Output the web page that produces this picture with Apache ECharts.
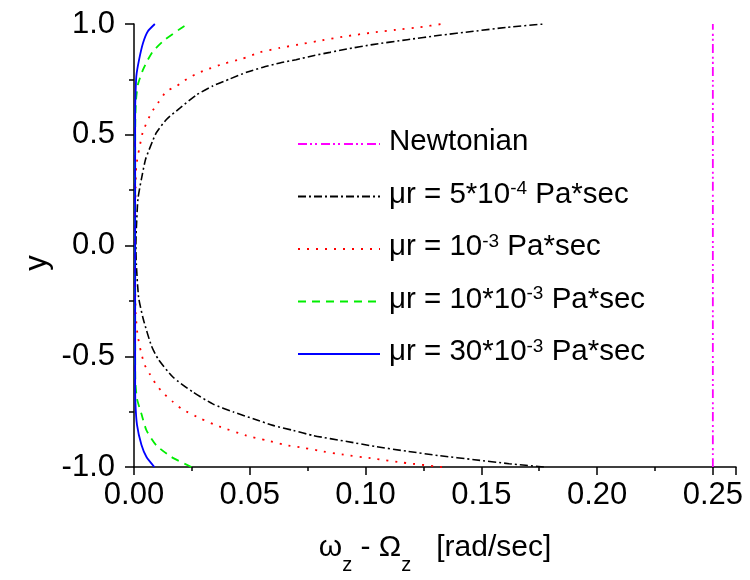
<!DOCTYPE html>
<html>
<head>
<meta charset="utf-8">
<script src="https://cdn.jsdelivr.net/npm/echarts@6/dist/echarts.min.js"></script>
<style>html,body{margin:0;padding:0;background:#fff;}#chart{width:750px;height:580px;}</style>
</head>
<body>
<div id="chart"></div>
<script>
// ---- data: [x (rad/sec), y] pairs ----
var newtonian = [[0.25, -1.0], [0.25, 1.0]];

var mu5e4 = [
  [0.177,-1.0],[0.162,-0.985],[0.147,-0.967],[0.132,-0.949],[0.118,-0.929],[0.104,-0.907],
  [0.092,-0.885],[0.0774,-0.858],[0.0688,-0.835],[0.060,-0.812],[0.0515,-0.782],[0.043,-0.752],
  [0.034,-0.715],[0.0255,-0.662],[0.0169,-0.595],[0.0104,-0.512],[0.0075,-0.452],[0.004,-0.332],
  [0.002,-0.234],[0.001,-0.084],[0.0008,0.0],[0.001,0.073],[0.0017,0.21],[0.0032,0.30],
  [0.005,0.389],[0.008,0.471],[0.0097,0.51],[0.014,0.569],[0.0198,0.62],[0.027,0.68],
  [0.034,0.72],[0.0414,0.752],[0.0486,0.782],[0.0558,0.805],[0.063,0.824],[0.070,0.839],
  [0.0774,0.857],[0.0846,0.872],[0.0919,0.887],[0.103,0.907],[0.118,0.929],[0.132,0.949],
  [0.1466,0.967],[0.161,0.985],[0.177,1.0]
];

var mu1e3 = [
  [0.133,-1.0],[0.116,-0.98],[0.1034,-0.962],[0.0897,-0.943],[0.0818,-0.93],[0.073,-0.913],
  [0.065,-0.9],[0.0573,-0.88],[0.0486,-0.858],[0.0368,-0.817],[0.0289,-0.782],[0.0205,-0.737],
  [0.0166,-0.704],[0.0125,-0.665],[0.0094,-0.625],[0.0068,-0.58],[0.0046,-0.539],[0.003,-0.48],
  [0.0015,-0.4],[0.0007,-0.3],[0.0005,-0.15],[0.0005,0.0],[0.0005,0.15],[0.0007,0.26],
  [0.001,0.36],[0.0022,0.434],[0.0029,0.47],[0.0039,0.516],[0.0075,0.599],[0.0104,0.644],
  [0.014,0.696],[0.0183,0.719],[0.0219,0.745],[0.0263,0.772],[0.0306,0.791],[0.0385,0.82],
  [0.0464,0.842],[0.0544,0.872],[0.063,0.892],[0.071,0.907],[0.0789,0.922],[0.0911,0.944],
  [0.1034,0.962],[0.1157,0.977],[0.1236,0.986],[0.133,1.0]
];

var mu10e3 = [
  [0.0248,-1.0],[0.0162,-0.955],[0.0097,-0.903],[0.0054,-0.835],[0.0032,-0.76],[0.0013,-0.692],
  [0.0006,-0.617],[0.0005,-0.5],[0.0005,0.0],[0.0005,0.5],[0.0006,0.58],[0.0009,0.659],
  [0.0017,0.727],[0.0039,0.794],[0.006,0.839],[0.0082,0.877],[0.0133,0.929],[0.0198,0.977],
  [0.0232,1.0]
];

var mu30e3 = [
  [0.0088,-1.0],[0.0054,-0.955],[0.0032,-0.9],[0.0013,-0.81],[0.0006,-0.707],[0.0005,-0.6],
  [0.0005,0.0],[0.0005,0.6],[0.0006,0.66],[0.001,0.764],[0.0022,0.839],[0.0039,0.914],
  [0.006,0.967],[0.009,1.0]
];

var xTicks = [0, 0.05, 0.10, 0.15, 0.20, 0.25];
var yTicks = [-1.0, -0.5, 0.0, 0.5, 1.0];

var legendLabels = {
  'Newtonian': '{t|Newtonian}',
  'mu5e-4': '{t|\u03bcr = 5*10}{sup|-4}{t| Pa*sec}',
  'mu1e-3': '{t|\u03bcr = 10}{sup|-3}{t| Pa*sec}',
  'mu10e-3': '{t|\u03bcr = 10*10}{sup|-3}{t| Pa*sec}',
  'mu30e-3': '{t|\u03bcr = 30*10}{sup|-3}{t| Pa*sec}'
};

var FONT = 'Liberation Sans, Arial, sans-serif';
var chart = echarts.init(document.getElementById('chart'), null, {renderer: 'canvas'});

function lineSeries(name, data, color, type, width) {
  return {
    name: name, type: 'line', data: data, symbol: 'none', showSymbol: false,
    smooth: 0.2, animation: false, clip: true,
    lineStyle: {color: color, width: width, type: type},
    itemStyle: {color: color}
  };
}

var option = {
  backgroundColor: '#ffffff',
  animation: false,
  grid: {left: 134, right: 14, top: 24, bottom: 112, containLabel: false},
  xAxis: {
    type: 'value', min: 0, max: 0.26, interval: 0.05,
    name: '{a|\u03c9}{s|z}{a| - \u03a9}{s|z}{a|   [rad/sec]}',
    nameLocation: 'middle', nameGap: 66,
    nameTextStyle: {
      fontFamily: FONT, color: '#000',
      rich: {
        a: {fontSize: 30, fontFamily: FONT, lineHeight: 36, verticalAlign: 'top', color: '#000'},
        s: {fontSize: 20, fontFamily: FONT, lineHeight: 20, padding: [22, 0, 0, 0], verticalAlign: 'top', color: '#000'}
      }
    },
    axisLine: {show: true, onZero: false, lineStyle: {color: '#000', width: 1.5}},
    axisTick: {show: true, length: 8, lineStyle: {color: '#000', width: 1.5}},
    minorTick: {show: true, splitNumber: 2, length: 4, lineStyle: {color: '#000', width: 1.5}},
    splitLine: {show: false},
    axisLabel: {
      fontSize: 31, fontFamily: FONT, color: '#000', margin: 13, showMaxLabel: true,
      formatter: function (v) {
        for (var i = 0; i < xTicks.length; i++) {
          if (Math.abs(v - xTicks[i]) < 1e-9) return xTicks[i].toFixed(2);
        }
        return '';
      }
    }
  },
  yAxis: {
    type: 'value', min: -1, max: 1, interval: 0.5,
    axisLine: {show: true, onZero: false, lineStyle: {color: '#000', width: 1.5}},
    axisTick: {show: true, length: 9, lineStyle: {color: '#000', width: 1.5}},
    minorTick: {show: true, splitNumber: 2, length: 5, lineStyle: {color: '#000', width: 1.5}},
    splitLine: {show: false},
    axisLabel: {
      fontSize: 31, fontFamily: FONT, color: '#000', margin: 19,
      formatter: function (v) {
        for (var i = 0; i < yTicks.length; i++) {
          if (Math.abs(v - yTicks[i]) < 1e-9) return yTicks[i].toFixed(1);
        }
        return '';
      }
    }
  },
  legend: {
    orient: 'vertical', left: 292, top: 122,
    itemWidth: 82, itemHeight: 14, itemGap: 22.5,
    data: ['Newtonian', 'mu5e-4', 'mu1e-3', 'mu10e-3', 'mu30e-3'],
    formatter: function (name) { return legendLabels[name]; },
    selectedMode: false,
    itemStyle: {opacity: 0, color: 'rgba(0,0,0,0)', borderWidth: 0},
    textStyle: {
      fontFamily: FONT, color: '#000', padding: [0, 0, 0, 4],
      rich: {
        t: {fontSize: 29.5, fontFamily: FONT, lineHeight: 34, verticalAlign: 'top', color: '#000'},
        sup: {fontSize: 19, fontFamily: FONT, lineHeight: 16, verticalAlign: 'top', color: '#000'}
      }
    }
  },
  graphic: [{
    type: 'text', x: 37, y: 263, rotation: Math.PI / 2,
    style: {text: 'y', fontSize: 31, fontFamily: FONT, fill: '#000', align: 'center', verticalAlign: 'middle'}
  }],
  series: [
    lineSeries('Newtonian', newtonian, '#ff00ff', [9, 3, 2, 3, 2, 4], 1.8),
    lineSeries('mu5e-4', mu5e4, '#000000', [8, 3, 2, 3], 1.6),
    lineSeries('mu1e-3', mu1e3, '#ff0000', [2, 7], 1.8),
    lineSeries('mu10e-3', mu10e3, '#00ee00', [8, 6], 1.8),
    lineSeries('mu30e-3', mu30e3, '#0000ff', 'solid', 1.8)
  ]
};
chart.setOption(option);
</script>
</body>
</html>
